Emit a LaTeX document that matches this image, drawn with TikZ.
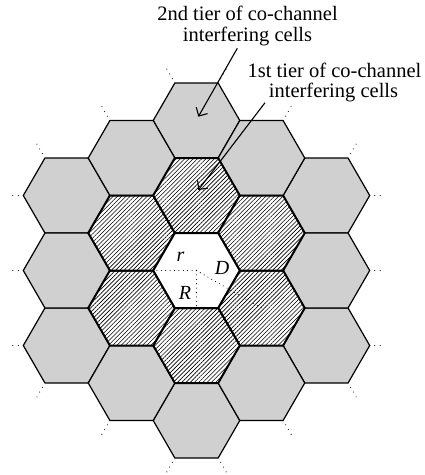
\documentclass[tikz,border=0pt]{standalone}
\usepackage{fontspec}
\setmainfont{Liberation Serif}
\usetikzlibrary{calc,patterns.meta,arrows.meta}
\definecolor{hexgray}{RGB}{208,208,208}
\newcommand\hexat[2]{\path[#1] ($#2+(0:\R)$) -- ++(120:\R) -- ++(180:\R) -- ++(240:\R) -- ++(300:\R) -- ++(0:\R) -- cycle;}
\begin{document}
\begin{tikzpicture}[x=1pt,y=-1pt,
  hexg/.style={fill=hexgray,draw=black,line width=1.2pt,line join=miter},
  hexh/.style={fill=white,postaction={pattern={Lines[angle=45,distance=3pt,line width=0.6pt]},pattern color=black},draw=black,line width=2pt,line join=miter},
  hexw/.style={fill=white,draw=black,line width=2pt,line join=miter},
  dotl/.style={line width=1.1pt,line cap=round,dash pattern=on 0pt off 4.4pt},
  dotext/.style={line width=1.1pt,line cap=round,dash pattern=on 0pt off 5.5pt,black},
  lab/.style={font=\fontsize{20}{22}\selectfont\itshape,inner sep=0pt},
  txt/.style={font=\fontsize{20.5}{22}\selectfont,inner sep=0pt,anchor=base},
  arr/.style={line width=1.1pt,-{Straight Barb[length=6.5pt,width=13pt,line width=1.1pt]}}]
\useasboundingbox (0,0) rectangle (425,475);
\def\R{43.3}
\def\s{75.0}
\coordinate (C) at (196.5,270.5);
% second tier (gray)
\foreach \a in {30,90,...,330}{\hexat{hexg}{(C)+(\a:{2*\s})}}
\foreach \a in {0,60,...,300}{\hexat{hexg}{(C)+(\a:{3*\R})}}
% first tier (hatched)
\foreach \a in {30,90,...,330}{\hexat{hexh}{(C)+(\a:\s)}}
% centre cell
\hexat{hexw}{(C)}
% continuation dots
\foreach \a in {30,90,...,330}{
  \foreach \b in {-30,30}{
    \draw[dotext] ($(C)+(\a:{2*\s})+({\a+\b}:\R)$) ++({\a+\b}:5) -- ++({\a+\b}:11);
  }
}
\foreach \a in {0,60,...,300}{
  \draw[dotext] ($(C)+(\a:{3*\R})+(\a:\R)$) ++(\a:5) -- ++(\a:11);
}
% r, R, D
\coordinate (Lv) at ($(C)+(180:\R)$);
\coordinate (Bm) at ($(C)+(90:{\s/2})$);
\coordinate (Nc) at ($(C)+(30:\s)$);
\draw[dotl] (C) -- (Lv);
\draw[dotl] (C) -- (Bm);
\draw[dotl] (C) -- (Nc);
\node[lab] (lr) at (180.5,257) {r};
\node[lab] (lR) at (185,292.5) {R};
\node[lab] (lD) at (222,268) {D};
% texts
\node[txt] (t1a) at (247.5,20) {2nd tier of co-channel};
\node[txt] (t1b) at (247.5,41) {interfering cells};
\node[txt] (t2a) at (334.5,77) {1st tier of co-channel};
\node[txt] (t2b) at (333.5,97.5) {interfering cells};
% arrows
\coordinate (a1s) at (237.3,48.3);
\coordinate (a1e) at (198.3,116.7);
\coordinate (a2s) at (265,102.7);
\coordinate (a2e) at (198.3,190);
\draw[arr] (a1s) -- (a1e);
\draw[arr] (a2s) -- (a2e);
\end{tikzpicture}
\end{document}
